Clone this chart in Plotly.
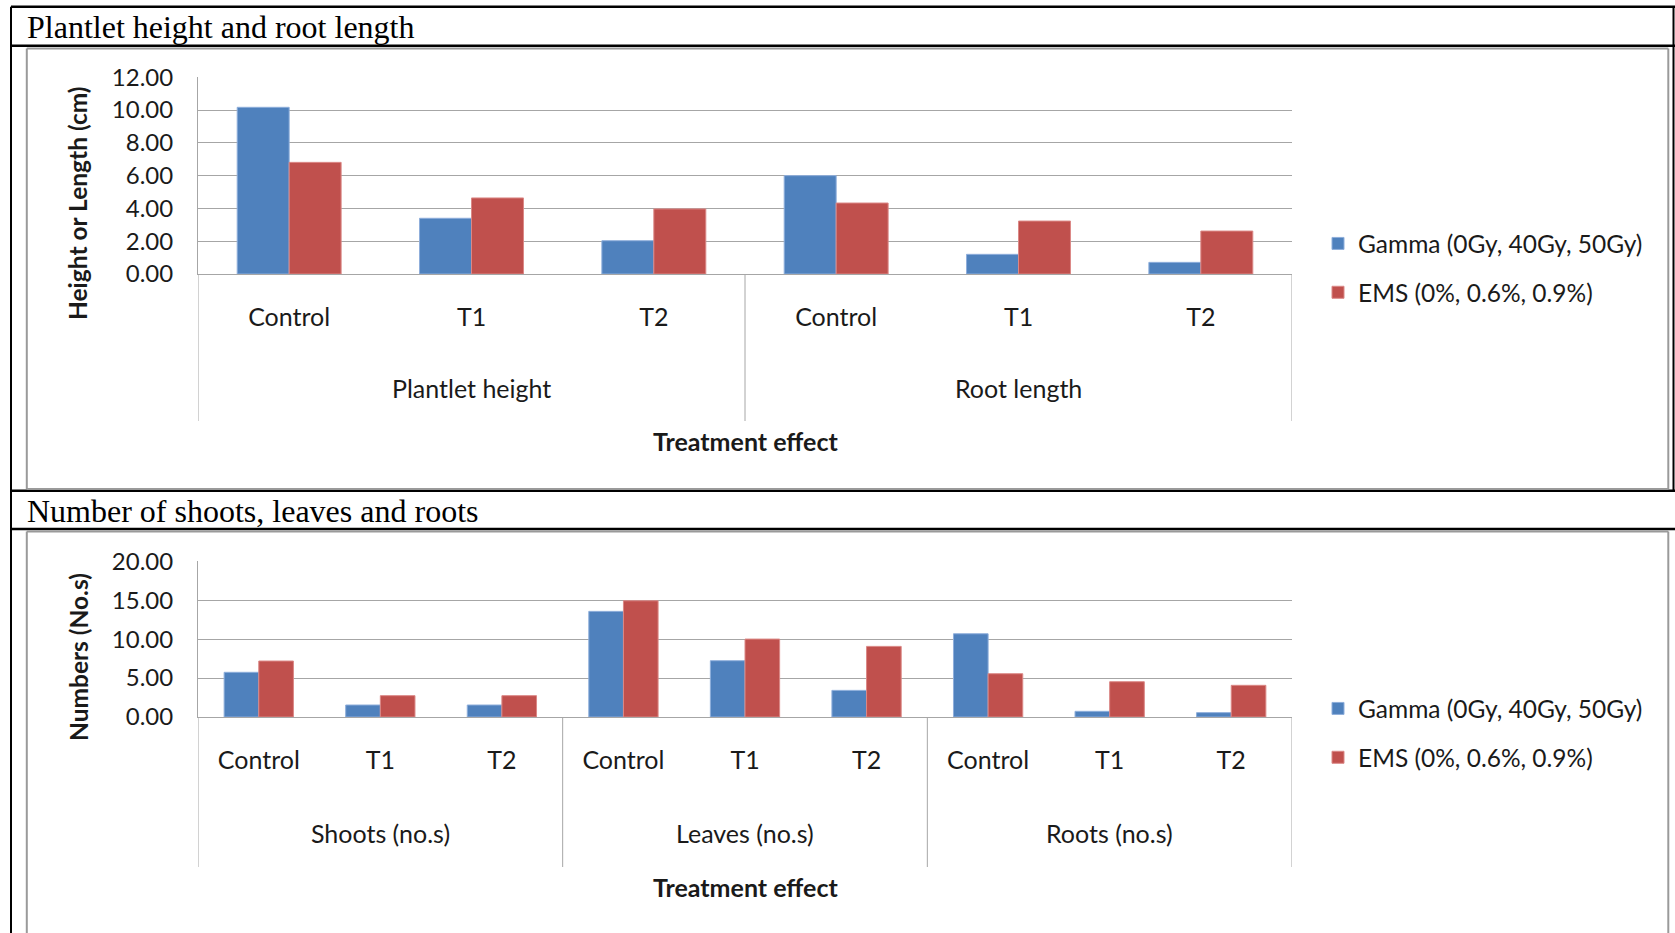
import plotly.graph_objects as go

# ---------------- data ----------------
categories = ["Control", "T1", "T2"]
top_groups = ["Plantlet height", "Root length"]
gamma_top = [10.17, 3.40, 2.03, 6.00, 1.20, 0.71]
ems_top = [6.81, 4.64, 3.97, 4.33, 3.23, 2.62]

bottom_groups = ["Shoots (no.s)", "Leaves (no.s)", "Roots (no.s)"]
gamma_bottom = [5.74, 1.54, 1.54, 13.57, 7.23, 3.42, 10.69, 0.73, 0.56]
ems_bottom = [7.19, 2.74, 2.74, 14.93, 10.01, 9.07, 5.56, 4.53, 4.07]

series_names = ["Gamma (0Gy, 40Gy, 50Gy)", "EMS (0%, 0.6%, 0.9%)"]
panel_titles = ["Plantlet height and root length", "Number of shoots, leaves and roots"]
y_titles = ["Height or Length (cm)", "Numbers (No.s)"]
x_title = "Treatment effect"
top_yticks = [0, 2, 4, 6, 8, 10, 12]
bottom_yticks = [0, 5, 10, 15, 20]

# ---------------- styling ----------------
W, H = 1675, 933
BLUE = "#4F81BD"
RED = "#C0504D"
GRID = "#A6A6A6"
FONT = "Lato"
TXT = "#1a1a1a"


def px(x):
    return x / W


def py(y):
    return 1 - y / H


fig = go.Figure()

panels = [
    dict(groups=top_groups, g=gamma_top, e=ems_top, xa="x", ya="y", legend="legend",
         top=77.3, bottom=274, yticks=top_yticks, ytitle_y=203, div=147, xt=167, gl=114),
    dict(groups=bottom_groups, g=gamma_bottom, e=ems_bottom, xa="x2", ya="y2", legend="legend2",
         top=561.3, bottom=717, yticks=bottom_yticks, ytitle_y=657, div=150, xt=169.5, gl=116),
]

X0, X1 = 198, 1292
shapes = []
annotations = []

for i, p in enumerate(panels):
    n = len(p["g"])
    xs = list(range(n))
    labels = [categories[k % len(categories)] for k in xs]
    for name, vals, col, edge in [(series_names[0], p["g"], BLUE, "#8EAEDB"),
                                  (series_names[1], p["e"], RED, "#DB8886")]:
        fig.add_trace(go.Bar(
            x=xs, y=vals, name=name, xaxis=p["xa"], yaxis=p["ya"],
            marker=dict(color=col, line=dict(color=edge, width=1)),
            legend=p["legend"], legendgroup=name + str(i), showlegend=True,
        ))
    axsuffix = "" if i == 0 else "2"
    fig.update_layout(**{
        "xaxis" + axsuffix: dict(
            domain=[px(X0), px(X1)], anchor="y" + axsuffix, range=[-0.5, n - 0.5],
            tickvals=xs, ticktext=labels, showgrid=False, zeroline=False,
            showline=True, linecolor=GRID, linewidth=1, ticks="",
            ticklabelstandoff=21, tickfont=dict(family=FONT, size=25, color=TXT),
            fixedrange=True, automargin=False,
        ),
        "yaxis" + axsuffix: dict(
            domain=[py(p["bottom"]), py(p["top"])], anchor="x" + axsuffix,
            range=[0, p["yticks"][-1]], tickvals=p["yticks"], tickformat=".2f",
            showgrid=True, gridcolor=GRID, gridwidth=1, zeroline=False,
            showline=True, linecolor=GRID, linewidth=1, ticks="",
            ticklabelstandoff=19, tickfont=dict(family=FONT, size=24, color=TXT),
            fixedrange=True, automargin=False,
        ),
    })
    # group dividers below the category axis
    ng = len(p["groups"])
    per = n // ng
    for k in range(ng + 1):
        shapes.append(dict(type="line", xref=p["xa"], yref="paper",
                           x0=k * per - 0.5, x1=k * per - 0.5,
                           y0=py(p["bottom"]), y1=py(p["bottom"] + p["div"]),
                           line=dict(color=GRID, width=1)))
    for k, gname in enumerate(p["groups"]):
        annotations.append(dict(text=gname, xref=p["xa"], yref="paper",
                                x=k * per + (per - 1) / 2, y=py(p["bottom"] + p["gl"]),
                                showarrow=False, xanchor="center", yanchor="middle",
                                font=dict(family=FONT, size=25, color=TXT)))
    annotations.append(dict(text="<b>" + x_title + "</b>", xref="paper", yref="paper",
                            x=px(745), y=py(p["bottom"] + p["xt"]), showarrow=False,
                            xanchor="center", yanchor="middle",
                            font=dict(family=FONT, size=25, color=TXT)))
    annotations.append(dict(text="<b>" + y_titles[i] + "</b>", xref="paper", yref="paper",
                            x=px(78), y=py(p["ytitle_y"]), showarrow=False, textangle=-90,
                            xanchor="center", yanchor="middle",
                            font=dict(family=FONT, size=24.5, color=TXT)))

# panel titles
for t, yc in zip(panel_titles, [26.5, 511]):
    annotations.append(dict(text=t, xref="paper", yref="paper", x=px(25), y=py(yc),
                            showarrow=False, xanchor="left", yanchor="middle",
                            font=dict(family="Liberation Serif", size=32, color="#000")))

# frame lines (table borders)
BLACK = "#000"
for (x0, y0, x1, y1, w) in [
    (11, 6.7, 1675, 6.7, 2.5), (11, 45.7, 1675, 45.7, 2.5),
    (11, 490.7, 1675, 490.7, 2.5), (11, 529, 1675, 529, 2.5),
    (11, 6.7, 11, 933, 2), (1673.5, 6.7, 1673.5, 490.7, 2),
]:
    shapes.append(dict(type="line", xref="paper", yref="paper", x0=px(x0), x1=px(x1),
                       y0=py(y0), y1=py(y1), line=dict(color=BLACK, width=w)))
# chart-area borders (grey)
CB = "#9A9A9A"
for (x0, y0, x1, y1) in [
    (26.8, 48.5, 1668.3, 48.5), (26.8, 48.5, 26.8, 489), (1668.3, 48.5, 1668.3, 489),
    (26.8, 489, 1668.3, 489),
    (26.8, 531.5, 1668.3, 531.5), (26.8, 531.5, 26.8, 933), (1668.3, 531.5, 1668.3, 933),
]:
    shapes.append(dict(type="line", xref="paper", yref="paper", x0=px(x0), x1=px(x1),
                       y0=py(y0), y1=py(y1), line=dict(color=CB, width=2)))

legend_style = dict(font=dict(family=FONT, size=24.5, color=TXT), xanchor="left",
                    yanchor="top", traceorder="grouped", tracegroupgap=14,
                    bgcolor="rgba(0,0,0,0)", itemclick=False, itemdoubleclick=False)

fig.update_layout(
    width=W, height=H, margin=dict(l=0, r=0, t=0, b=0, pad=0, autoexpand=False),
    paper_bgcolor="white", plot_bgcolor="white",
    barmode="group", bargap=0.43, bargroupgap=0,
    shapes=shapes, annotations=annotations,
    legend=dict(x=px(1318), y=py(221), **legend_style),
    legend2=dict(x=px(1318), y=py(686), **legend_style),
)

fig.write_html("out.html",
               config={"displayModeBar": False},
               post_script="document.body.style.margin='0';document.body.style.overflow='hidden';")
